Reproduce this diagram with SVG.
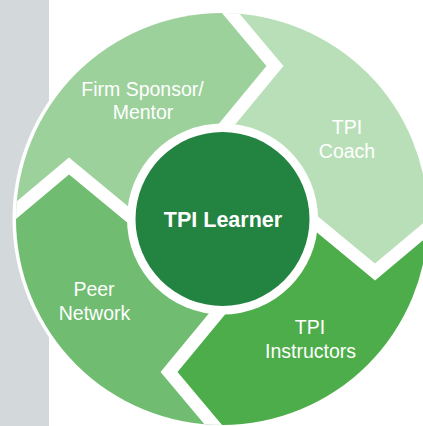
<svg xmlns="http://www.w3.org/2000/svg" width="423" height="426" viewBox="0 0 423 426">
<defs>
<style>
.lbl{font-family:"Liberation Sans",Arial,sans-serif;font-size:19.5px;fill:#fff;text-anchor:middle}
.ctr{font-family:"Liberation Sans",Arial,sans-serif;font-size:21.5px;font-weight:bold;fill:#fff;text-anchor:middle}
.gap{fill:none;stroke:#fff;stroke-width:13;stroke-linejoin:miter;stroke-miterlimit:10}
</style>
<clipPath id="outer"><circle cx="222" cy="219" r="206"/></clipPath>
<path id="seg" d="M0,0 L5,-95 L53,-153 L8,-206 L6,-260 L-260,-260 L-260,-6 L-206,-8 L-153,-53 L-95,-5 Z"/>
<polyline id="chev" class="gap" points="-4,-84 53,-153 -5,-222"/>
</defs>
<rect width="423" height="426" fill="#fff"/>
<rect x="0" y="0" width="49" height="426" fill="#d3d8db"/>
<circle cx="222" cy="219" r="209.5" fill="#fff"/>
<g clip-path="url(#outer)">
  <g id="firm-sponsor">
    <use href="#seg" transform="translate(222 219)" fill="#9dd19c"/>
    <text class="lbl" x="142.5" y="95.5">Firm Sponsor/</text>
    <text class="lbl" x="143" y="119">Mentor</text>
  </g>
  <g id="tpi-coach">
    <use href="#seg" transform="translate(222 219) rotate(90)" fill="#b9dfb9"/>
    <text class="lbl" x="347" y="134">TPI</text>
    <text class="lbl" x="347" y="157.5">Coach</text>
  </g>
  <g id="tpi-instructors">
    <use href="#seg" transform="translate(222 219) rotate(180)" fill="#4ead4b"/>
    <text class="lbl" x="310" y="334">TPI</text>
    <text class="lbl" x="310.5" y="357.5">Instructors</text>
  </g>
  <g id="peer-network">
    <use href="#seg" transform="translate(222 219) rotate(270)" fill="#70bc70"/>
    <text class="lbl" x="94" y="296">Peer</text>
    <text class="lbl" x="94.5" y="319.5">Network</text>
  </g>
  <g id="connectors">
    <use href="#chev" transform="translate(222 219)"/>
    <use href="#chev" transform="translate(222 219) rotate(90)"/>
    <use href="#chev" transform="translate(222 219) rotate(180)"/>
    <use href="#chev" transform="translate(222 219) rotate(270)"/>
  </g>
</g>
<g id="tpi-learner">
  <circle cx="222.5" cy="219" r="95.5" fill="#fff"/>
  <circle cx="222.5" cy="219" r="87" fill="#238442"/>
  <text class="ctr" x="223" y="227">TPI Learner</text>
</g>
</svg>
